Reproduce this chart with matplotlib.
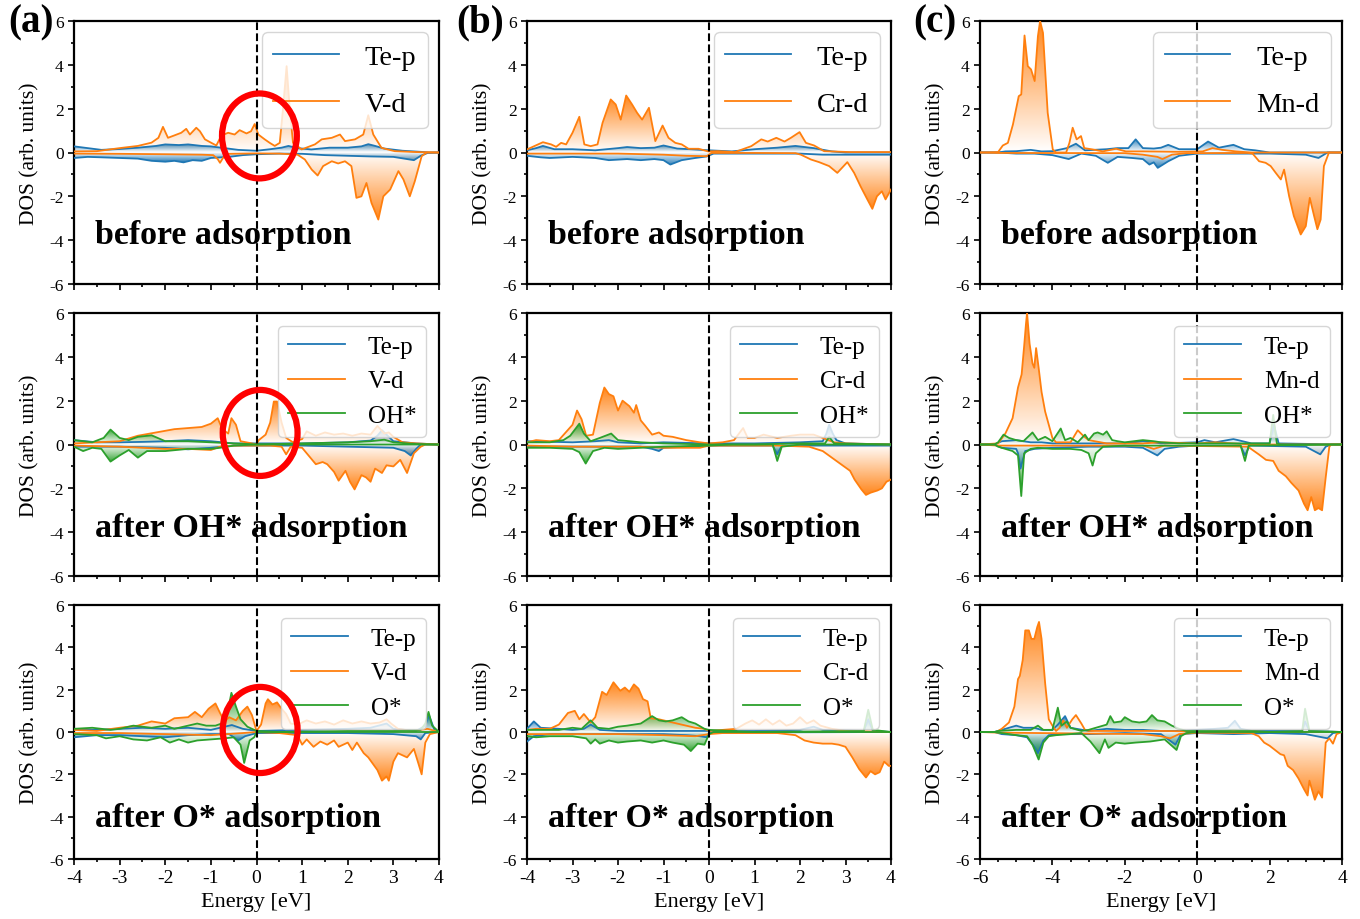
import numpy as np
import matplotlib.pyplot as plt
from matplotlib import rcParams
from matplotlib.patches import Polygon, Ellipse
from matplotlib.colors import to_rgb
from matplotlib.ticker import MultipleLocator

rcParams["font.family"] = "serif"
rcParams["font.serif"] = ["Liberation Serif", "DejaVu Serif"]
rcParams["axes.unicode_minus"] = False
rcParams["axes.linewidth"] = 1.6

# (energy eV, DOS) pairs; up spin > 0, down spin < 0

# ---- V, clean ----
v0_te_up = [(-4,0.28),(-3.7,0.2),(-3.4,0.12),(-3.0,0.16),(-2.6,0.22),(-2.2,0.3),(-2.0,0.37),(-1.7,0.34),(-1.5,0.37),(-1.2,0.3),(-1.0,0.28),(-0.7,0.2),(-0.4,0.12),(0,0.08),(0.3,0.15),(0.55,0.22),(0.7,0.3),(0.9,0.2),(1.2,0.14),(1.6,0.22),(2.0,0.22),(2.3,0.28),(2.45,0.38),(2.6,0.3),(2.8,0.18),(3.2,0.08),(3.6,0.03),(3.8,0.0),(4,0)]
v0_te_dn = [(-4,-0.25),(-3.7,-0.2),(-3.4,-0.22),(-3.0,-0.25),(-2.6,-0.28),(-2.3,-0.38),(-2.0,-0.42),(-1.8,-0.38),(-1.6,-0.45),(-1.4,-0.35),(-1.2,-0.38),(-1.0,-0.25),(-0.6,-0.2),(-0.3,-0.12),(0,-0.08),(0.5,-0.05),(1.0,-0.06),(1.5,-0.12),(2.0,-0.15),(2.5,-0.18),(3.0,-0.2),(3.3,-0.3),(3.45,-0.35),(3.6,-0.15),(3.75,-0.02),(4,0)]
v0_d_up = [(-4,0.05),(-3.5,0.06),(-3.0,0.2),(-2.6,0.3),(-2.3,0.45),(-2.15,0.67),(-2.05,1.17),(-1.94,0.67),(-1.8,0.78),(-1.65,0.9),(-1.54,1.08),(-1.46,0.82),(-1.32,1.13),(-1.24,0.97),(-1.13,0.6),(-0.99,0.44),(-0.88,0.32),(-0.77,0.78),(-0.62,0.9),(-0.48,0.82),(-0.37,1.02),(-0.22,0.87),(-0.12,0.97),(-0.04,1.3),(0.04,0.82),(0.18,0.6),(0.29,0.44),(0.4,0.3),(0.51,0.44),(0.58,1.96),(0.66,3.94),(0.73,1.96),(0.8,0.44),(0.99,0.14),(1.28,0.37),(1.43,0.6),(1.65,0.67),(1.83,0.82),(1.94,0.52),(2.16,0.6),(2.34,0.82),(2.45,1.7),(2.56,0.82),(2.74,0.21),(3.03,0.06),(3.5,0.02),(4,0.0)]
v0_d_dn = [(-4,-0.05),(-3.0,-0.06),(-2.0,-0.08),(-1.2,-0.1),(-0.95,-0.12),(-0.85,-0.3),(-0.8,-0.47),(-0.72,-0.2),(-0.6,-0.06),(0,-0.04),(0.5,-0.05),(0.9,-0.1),(1.06,-0.32),(1.21,-0.78),(1.34,-1.05),(1.46,-0.62),(1.65,-0.4),(1.79,-0.5),(1.94,-0.4),(2.08,-0.62),(2.19,-2.07),(2.3,-2.0),(2.41,-1.39),(2.52,-2.3),(2.67,-3.06),(2.78,-2.0),(2.93,-1.69),(3.11,-0.85),(3.22,-1.23),(3.36,-2.0),(3.47,-1.31),(3.62,-0.17),(3.73,0),(4,0)]

# ---- Cr, clean ----
cr0_te_up = [(-4,0.1),(-3.8,0.2),(-3.65,0.3),(-3.4,0.15),(-3.0,0.15),(-2.5,0.1),(-2.0,0.2),(-1.8,0.25),(-1.5,0.2),(-1.2,0.22),(-1.0,0.32),(-0.7,0.18),(-0.4,0.15),(0,0.1),(0.5,0.05),(1.0,0.15),(1.5,0.22),(1.9,0.3),(2.3,0.2),(2.7,0.05),(3.0,0.0),(4,0.0)]
cr0_te_dn = [(-4,-0.15),(-3.7,-0.22),(-3.5,-0.25),(-3.0,-0.2),(-2.5,-0.25),(-2.2,-0.35),(-1.8,-0.3),(-1.5,-0.35),(-1.2,-0.3),(-1.0,-0.35),(-0.85,-0.55),(-0.6,-0.35),(-0.3,-0.25),(-0.05,-0.18),(0.1,-0.05),(0.5,-0.05),(1.0,-0.05),(2.0,-0.05),(2.5,-0.1),(4,-0.1)]
cr0_d_up = [(-4,0.14),(-3.65,0.47),(-3.47,0.37),(-3.36,0.26),(-3.25,0.44),(-3.14,0.37),(-3.0,0.9),(-2.85,1.63),(-2.74,0.37),(-2.6,0.29),(-2.45,0.37),(-2.34,1.35),(-2.16,2.42),(-2.05,2.19),(-1.94,1.5),(-1.82,2.6),(-1.69,2.19),(-1.58,1.81),(-1.47,1.5),(-1.32,2.04),(-1.18,0.52),(-1.02,1.23),(-0.89,0.67),(-0.74,0.44),(-0.6,0.37),(-0.45,0.17),(-0.23,0.17),(-0.02,0.05),(0.2,0.06),(0.57,0.02),(0.93,0.29),(1.15,0.6),(1.29,0.5),(1.48,0.67),(1.66,0.5),(1.8,0.67),(1.99,0.93),(2.13,0.44),(2.31,0.32),(2.53,0.06),(3.1,0.02),(4,0.02)]
cr0_d_dn = [(-4,-0.05),(-2.0,-0.05),(-1.0,-0.1),(-0.5,-0.15),(-0.05,-0.17),(0.05,-0.02),(1.0,-0.02),(1.9,-0.03),(2.02,-0.1),(2.24,-0.32),(2.42,-0.44),(2.64,-0.62),(2.82,-0.93),(3.04,-0.44),(3.19,-0.93),(3.33,-1.54),(3.48,-2.14),(3.59,-2.57),(3.69,-2.0),(3.8,-1.77),(3.88,-2.14),(4,-1.69)]

# ---- Mn, clean ----
mn0_te_up = [(-6,0),(-5.5,0.0),(-5.3,0.05),(-5.0,0.06),(-4.6,0.12),(-4.3,0.05),(-4.0,0.06),(-3.6,0.2),(-3.35,0.4),(-3.1,0.1),(-2.5,0.15),(-2.2,0.2),(-1.9,0.2),(-1.7,0.6),(-1.5,0.2),(-1.2,0.18),(-1.0,0.22),(-0.8,0.35),(-0.5,0.15),(0,0.15),(0.3,0.5),(0.6,0.22),(1.0,0.35),(1.3,0.15),(1.6,0.1),(2.0,0.0),(4,0)]
mn0_te_dn = [(-6,0),(-5.5,0.0),(-5.0,-0.05),(-4.5,-0.05),(-4.0,-0.12),(-3.55,-0.3),(-3.2,-0.05),(-2.8,-0.15),(-2.47,-0.47),(-2.2,-0.2),(-1.8,-0.25),(-1.5,-0.3),(-1.32,-0.55),(-1.2,-0.45),(-1.09,-0.7),(-0.8,-0.4),(-0.5,-0.15),(0,-0.05),(1.0,-0.05),(2.0,-0.05),(3.0,-0.1),(3.35,-0.25),(3.6,0.0),(4,0)]
mn0_d_up = [(-6,0),(-5.5,0.02),(-5.37,0.32),(-5.23,0.44),(-5.09,1.28),(-4.93,2.57),(-4.86,2.65),(-4.77,5.34),(-4.68,3.94),(-4.59,3.79),(-4.49,3.26),(-4.4,5.31),(-4.34,6.0),(-4.26,5.46),(-4.13,1.81),(-3.99,0.14),(-3.9,0.0),(-3.62,0.0),(-3.53,0.44),(-3.44,1.13),(-3.33,0.6),(-3.21,0.75),(-3.12,0.2),(-2.89,0.14),(-2.61,0.05),(-2.24,0.17),(-1.97,0.05),(-1.5,0.05),(-0.5,0.03),(0.15,0.05),(0.42,0.2),(0.7,0.12),(1.07,0.05),(1.5,0.0),(4,0)]
mn0_d_dn = [(-6,0),(-5.5,-0.02),(-2.0,-0.03),(-1.5,-0.1),(-1.1,-0.2),(-0.96,-0.3),(-0.7,-0.1),(-0.3,-0.03),(1.4,-0.02),(1.53,-0.05),(1.71,-0.4),(1.89,-0.47),(2.03,-0.62),(2.17,-0.93),(2.31,-1.23),(2.4,-0.78),(2.54,-2.0),(2.67,-2.9),(2.86,-3.74),(3.0,-3.36),(3.11,-2.07),(3.23,-2.9),(3.32,-3.5),(3.41,-3.06),(3.5,-0.62),(3.64,0),(4,0)]

# ---- V + OH* ----
v1_te_up = [(-4,0.2),(-3.5,0.1),(-3.0,0.1),(-2.5,0.12),(-2.0,0.15),(-1.5,0.2),(-1.0,0.15),(-0.5,0.05),(0,0.05),(1.0,0.05),(2.0,0.1),(2.5,0.18),(2.65,0.4),(2.75,0.65),(2.85,0.45),(3.0,0.15),(3.5,0.05),(4,0)]
v1_te_dn = [(-4,-0.1),(-3.0,-0.1),(-2.0,-0.15),(-1.5,-0.22),(-1.0,-0.15),(-0.5,-0.05),(0,-0.05),(1.0,-0.05),(2.0,-0.1),(3.0,-0.15),(3.25,-0.3),(3.38,-0.5),(3.5,-0.2),(3.6,0),(4,0)]
v1_d_up = [(-4,0.05),(-3.5,0.1),(-3.0,0.15),(-2.6,0.4),(-2.2,0.55),(-1.8,0.7),(-1.5,0.75),(-1.2,0.8),(-1.0,0.95),(-0.85,1.2),(-0.75,0.7),(-0.62,0.5),(-0.55,1.2),(-0.45,0.9),(-0.35,0.15),(-0.1,0.05),(0,0.0),(0.05,0.2),(0.2,0.45),(0.3,1.0),(0.38,1.96),(0.45,1.96),(0.55,1.0),(0.65,0.3),(0.8,0.1),(1.0,0.25),(1.1,0.6),(1.3,0.4),(1.5,0.55),(1.7,0.45),(1.9,0.5),(2.1,0.4),(2.3,0.5),(2.5,0.45),(2.65,0.85),(2.8,0.5),(2.9,0.55),(3.0,0.35),(3.2,0.1),(3.5,0.05),(4,0)]
v1_d_dn = [(-4,-0.05),(-3.0,-0.1),(-2.5,-0.15),(-2.0,-0.2),(-1.5,-0.2),(-1.0,-0.25),(-0.8,-0.1),(-0.5,-0.05),(0.3,-0.05),(0.55,-0.1),(0.65,-0.45),(0.75,-0.1),(1.0,-0.15),(1.1,-0.4),(1.3,-0.9),(1.45,-0.8),(1.55,-0.9),(1.7,-1.25),(1.8,-1.65),(1.95,-1.2),(2.05,-1.7),(2.15,-2.05),(2.3,-1.4),(2.4,-1.5),(2.5,-1.7),(2.6,-1.1),(2.75,-1.3),(2.85,-0.95),(3.0,-1.0),(3.15,-0.7),(3.3,-1.3),(3.45,-0.4),(3.6,-0.1),(3.7,0),(4,0)]
v1_ad_up = [(-4,0.2),(-3.6,0.1),(-3.35,0.3),(-3.2,0.68),(-3.0,0.3),(-2.8,0.2),(-2.6,0.35),(-2.3,0.42),(-2.0,0.15),(-1.5,0.15),(-1.0,0.1),(-0.5,0.05),(0,0.0),(1.0,0.05),(2.0,0.1),(2.5,0.15),(2.8,0.22),(3.0,0.1),(3.5,0.02),(4,0)]
v1_ad_dn = [(-4,-0.1),(-3.8,-0.3),(-3.6,-0.15),(-3.4,-0.2),(-3.2,-0.78),(-3.0,-0.5),(-2.8,-0.25),(-2.6,-0.6),(-2.4,-0.3),(-2.0,-0.3),(-1.5,-0.2),(-1.0,-0.2),(-0.8,-0.15),(-0.5,-0.05),(0,0),(4,0)]

# ---- Cr + OH* ----
cr1_te_up = [(-4,0.15),(-3.0,0.1),(-2.5,0.15),(-2.2,0.2),(-2.0,0.1),(-1.5,0.05),(-1.0,0.1),(0,0.05),(1.0,0.05),(2.0,0.1),(2.5,0.15),(2.58,0.5),(2.64,0.9),(2.72,0.5),(2.8,0.2),(3.0,0.05),(4,0)]
cr1_te_dn = [(-4,-0.1),(-3.0,-0.1),(-2.0,-0.1),(-1.5,-0.1),(-1.25,-0.2),(-1.1,-0.3),(-1.0,-0.15),(0,-0.05),(1.4,-0.05),(1.5,-0.45),(1.6,-0.05),(2.0,-0.05),(3.5,-0.05),(4,-0.05)]
cr1_d_up = [(-4,0.1),(-3.8,0.2),(-3.5,0.15),(-3.3,0.2),(-3.15,0.55),(-3.0,0.9),(-2.9,1.55),(-2.8,1.15),(-2.7,0.4),(-2.55,0.45),(-2.4,1.9),(-2.3,2.6),(-2.2,2.3),(-2.1,2.2),(-2.0,1.55),(-1.9,2.0),(-1.75,1.75),(-1.65,1.45),(-1.6,1.8),(-1.5,1.1),(-1.4,0.85),(-1.25,0.45),(-1.1,0.55),(-1.0,0.4),(-0.8,0.35),(-0.5,0.2),(-0.2,0.1),(0,0.05),(0.3,0.1),(0.55,0.2),(0.75,0.75),(0.85,0.3),(1.0,0.3),(1.2,0.45),(1.5,0.3),(1.8,0.4),(2.0,0.45),(2.3,0.45),(2.5,0.3),(2.75,0.1),(3.0,0.05),(4,0)]
cr1_d_dn = [(-4,-0.05),(-3.0,-0.1),(-2.0,-0.1),(-1.5,-0.1),(-1.0,-0.15),(-0.5,-0.15),(-0.2,-0.15),(0,-0.05),(0.5,-0.05),(1.5,-0.05),(2.2,-0.1),(2.5,-0.3),(2.7,-0.6),(2.9,-0.9),(3.1,-1.2),(3.2,-1.6),(3.35,-2.05),(3.45,-2.3),(3.55,-2.2),(3.7,-2.1),(3.8,-2.0),(3.9,-1.7),(4,-1.6)]
cr1_ad_up = [(-4,0.1),(-3.5,0.1),(-3.2,0.2),(-3.05,0.4),(-2.85,0.95),(-2.75,0.5),(-2.6,0.15),(-2.4,0.3),(-2.15,0.5),(-2.0,0.2),(-1.5,0.1),(-1.0,0.05),(0,0.0),(1.0,0.0),(2.0,0.05),(2.55,0.05),(2.64,0.35),(2.75,0.05),(4,0)]
cr1_ad_dn = [(-4,-0.15),(-3.5,-0.15),(-3.0,-0.2),(-2.85,-0.35),(-2.71,-0.87),(-2.55,-0.3),(-2.3,-0.15),(-2.0,-0.2),(-1.5,-0.15),(-1.0,-0.1),(0,-0.05),(0.5,0),(1.4,0),(1.5,-0.75),(1.6,-0.1),(2.0,0),(4,0)]

# ---- Mn + OH* ----
mn1_te_up = [(-6,0),(-5.6,0),(-5.4,0.15),(-5.0,0.2),(-4.6,0.1),(-4.3,0.1),(-4.0,0.05),(-3.0,0.05),(-2.0,0.05),(-1.5,0.15),(-1.0,0.05),(0,0.1),(0.2,0.2),(0.5,0.1),(1.0,0.25),(1.5,0.05),(2.0,0.05),(2.12,0.9),(2.25,0.05),(4,0)]
mn1_te_dn = [(-6,0),(-5.6,0),(-5.4,-0.15),(-5.0,-0.2),(-4.95,-0.4),(-4.88,-1.1),(-4.75,-0.3),(-4.5,-0.2),(-4.0,-0.15),(-3.0,-0.1),(-2.0,-0.1),(-1.5,-0.15),(-1.1,-0.5),(-0.9,-0.2),(-0.5,-0.1),(0,-0.05),(1.2,-0.05),(1.32,-0.5),(1.45,-0.05),(3.0,-0.1),(3.4,-0.45),(3.55,-0.1),(3.7,0),(4,0)]
mn1_d_up = [(-6,0),(-5.5,0.05),(-5.3,0.5),(-5.1,1.2),(-4.95,2.6),(-4.85,3.2),(-4.78,4.5),(-4.73,5.5),(-4.7,6.0),(-4.63,4.6),(-4.55,3.7),(-4.5,3.5),(-4.45,4.4),(-4.38,3.5),(-4.3,2.4),(-4.2,1.5),(-4.1,0.9),(-4.0,0.3),(-3.9,0.1),(-3.5,0.1),(-3.3,0.65),(-3.15,0.4),(-3.0,0.2),(-2.5,0.05),(-1.5,0.05),(-1.0,0.1),(0,0.05),(0.5,0.1),(1.0,0.05),(1.5,0.0),(4,0)]
mn1_d_dn = [(-6,0),(-5.5,-0.05),(-1.5,-0.05),(-1.2,-0.2),(-0.9,-0.05),(1.4,-0.1),(1.7,-0.45),(1.9,-0.7),(2.1,-0.75),(2.25,-1.2),(2.45,-1.45),(2.6,-1.75),(2.8,-2.1),(2.95,-2.7),(3.05,-3.0),(3.15,-2.4),(3.25,-3.0),(3.35,-2.9),(3.45,-3.0),(3.55,-1.5),(3.65,-0.1),(3.7,0),(4,0)]
mn1_ad_up = [(-6,0),(-5.6,0),(-5.5,0.1),(-5.35,0.45),(-5.2,0.3),(-5.0,0.2),(-4.8,0.15),(-4.55,0.55),(-4.4,0.2),(-4.2,0.35),(-4.0,0.15),(-3.77,0.73),(-3.65,0.2),(-3.5,0.3),(-3.3,0.1),(-3.1,0.45),(-3.0,0.2),(-2.85,0.5),(-2.75,0.55),(-2.6,0.45),(-2.5,0.6),(-2.35,0.2),(-2.2,0.15),(-2.0,0.1),(-1.5,0.2),(-1.2,0.15),(-1.0,0.1),(-0.5,0.05),(0,0.05),(1.0,0.05),(2.0,0.05),(2.1,1.35),(2.2,0.05),(2.3,0),(4,0)]
mn1_ad_dn = [(-6,0),(-5.6,0),(-5.5,-0.1),(-5.3,-0.2),(-5.1,-0.3),(-4.95,-0.5),(-4.86,-2.35),(-4.78,-0.4),(-4.6,-0.2),(-4.4,-0.15),(-4.0,-0.2),(-3.5,-0.2),(-3.2,-0.25),(-3.0,-0.4),(-2.89,-0.96),(-2.8,-0.4),(-2.6,-0.1),(-2.0,-0.05),(1.2,-0.05),(1.32,-0.75),(1.42,-0.05),(4,0)]

# ---- V + O* ----
v2_te_up = [(-4,0.15),(-3.5,0.1),(-3.0,0.15),(-2.5,0.2),(-2.0,0.15),(-1.5,0.2),(-1.0,0.1),(-0.54,0.33),(-0.3,0.15),(0,0.05),(1.0,0.1),(2.0,0.15),(2.5,0.2),(2.85,0.4),(3.0,0.15),(3.5,0.05),(3.7,0.3),(3.78,0.8),(3.9,0.1),(4,0)]
v2_te_dn = [(-4,-0.25),(-3.5,-0.15),(-3.0,-0.15),(-2.5,-0.2),(-2.0,-0.25),(-1.5,-0.15),(-1.0,-0.1),(-0.6,-0.1),(-0.4,-0.4),(-0.25,-0.2),(0,-0.05),(1.0,-0.05),(2.0,-0.05),(3.0,-0.1),(3.5,-0.2),(3.6,-0.35),(3.7,-0.05),(4,0)]
v2_d_up = [(-4,0.1),(-3.5,0.05),(-3.0,0.2),(-2.6,0.3),(-2.3,0.5),(-2.0,0.4),(-1.8,0.65),(-1.5,0.7),(-1.35,0.95),(-1.2,0.7),(-1.05,1.1),(-0.9,1.35),(-0.8,0.9),(-0.7,0.5),(-0.6,0.7),(-0.45,0.55),(-0.3,1.0),(-0.2,1.2),(-0.1,0.8),(0,0.05),(0.1,0.35),(0.2,1.35),(0.25,1.55),(0.35,1.3),(0.45,1.4),(0.55,1.1),(0.65,0.85),(0.75,0.4),(0.9,0.35),(1.1,0.55),(1.3,0.4),(1.5,0.5),(1.7,0.35),(1.9,0.55),(2.1,0.4),(2.3,0.5),(2.5,0.4),(2.7,0.45),(2.85,0.6),(2.95,0.4),(3.1,0.15),(3.4,0.05),(3.75,0.15),(4,0)]
v2_d_dn = [(-4,-0.05),(-3.0,-0.05),(-2.0,-0.1),(-1.0,-0.15),(-0.3,-0.05),(0,0),(0.5,-0.05),(0.9,-0.15),(1.0,-0.6),(1.1,-0.35),(1.25,-0.7),(1.4,-0.45),(1.55,-0.6),(1.7,-0.4),(1.8,-0.7),(2.0,-0.5),(2.1,-0.85),(2.2,-0.5),(2.35,-1.0),(2.45,-1.2),(2.55,-1.5),(2.65,-1.8),(2.75,-2.3),(2.85,-2.1),(2.9,-2.3),(3.0,-1.4),(3.1,-1.0),(3.3,-1.2),(3.45,-0.8),(3.55,-1.5),(3.62,-2.0),(3.7,-0.5),(3.8,-0.1),(4,0)]
v2_ad_up = [(-4,0.15),(-3.6,0.2),(-3.2,0.1),(-3.0,0.15),(-2.7,0.3),(-2.5,0.25),(-2.3,0.2),(-2.0,0.3),(-1.8,0.15),(-1.5,0.3),(-1.3,0.4),(-1.1,0.3),(-0.9,0.3),(-0.7,0.45),(-0.6,1.3),(-0.55,1.85),(-0.45,1.2),(-0.35,0.6),(-0.2,0.25),(0,0.05),(0.5,0.0),(2.0,0.05),(3.0,0.05),(3.6,0.1),(3.7,0.4),(3.77,0.95),(3.85,0.3),(4,0)]
v2_ad_dn = [(-4,-0.1),(-3.5,-0.15),(-3.3,-0.3),(-3.0,-0.2),(-2.7,-0.35),(-2.4,-0.4),(-2.1,-0.25),(-1.9,-0.5),(-1.7,-0.35),(-1.5,-0.5),(-1.3,-0.4),(-1.0,-0.35),(-0.7,-0.3),(-0.5,-0.25),(-0.35,-0.6),(-0.27,-1.46),(-0.15,-0.4),(-0.05,-0.25),(0,0),(4,0)]

# ---- Cr + O* ----
cr2_te_up = [(-4,0.15),(-3.85,0.5),(-3.7,0.2),(-3.3,0.15),(-3.0,0.1),(-2.75,0.15),(-2.6,0.35),(-2.4,0.1),(-2.0,0.05),(-1.0,0.05),(0,0.05),(1.0,0.05),(2.0,0.1),(2.3,0.25),(2.5,0.1),(3.4,0.05),(3.5,0.6),(3.6,0.05),(4,0)]
cr2_te_dn = [(-4,-0.45),(-3.85,-0.2),(-3.5,-0.1),(-3.0,-0.1),(-2.0,-0.1),(-1.0,-0.1),(-0.5,-0.15),(-0.2,-0.2),(-0.05,-0.25),(0,-0.05),(1.0,-0.02),(4,0)]
cr2_d_up = [(-4,0.1),(-3.8,0.15),(-3.5,0.15),(-3.3,0.35),(-3.1,0.9),(-2.95,1.0),(-2.85,0.6),(-2.75,0.85),(-2.6,0.45),(-2.5,0.7),(-2.35,1.9),(-2.25,1.75),(-2.1,2.35),(-1.95,1.95),(-1.85,2.1),(-1.75,1.9),(-1.65,2.25),(-1.55,2.05),(-1.45,1.55),(-1.35,1.45),(-1.28,0.65),(-1.1,0.6),(-0.9,0.5),(-0.7,0.4),(-0.5,0.3),(-0.3,0.2),(-0.1,0.15),(0,0.05),(0.3,0.1),(0.6,0.15),(0.8,0.4),(0.95,0.55),(1.1,0.35),(1.25,0.6),(1.4,0.35),(1.55,0.55),(1.7,0.3),(1.85,0.4),(2.0,0.7),(2.15,0.4),(2.3,0.55),(2.45,0.3),(2.7,0.15),(3.0,0.05),(4,0)]
cr2_d_dn = [(-4,-0.1),(-3.0,-0.1),(-2.0,-0.1),(-1.0,-0.15),(-0.3,-0.2),(0,-0.1),(0.3,-0.05),(1.5,-0.05),(1.9,-0.15),(2.1,-0.4),(2.3,-0.5),(2.5,-0.55),(2.7,-0.55),(2.85,-0.6),(3.0,-0.7),(3.15,-1.2),(3.3,-1.75),(3.45,-2.15),(3.55,-1.85),(3.65,-2.0),(3.75,-1.9),(3.85,-1.4),(3.95,-1.6),(4,-1.6)]
cr2_ad_up = [(-4,0.1),(-3.7,0.1),(-3.3,0.1),(-3.0,0.2),(-2.8,0.15),(-2.6,0.55),(-2.45,0.2),(-2.2,0.15),(-2.0,0.25),(-1.8,0.3),(-1.5,0.4),(-1.25,0.75),(-1.1,0.55),(-0.95,0.5),(-0.8,0.55),(-0.6,0.7),(-0.45,0.5),(-0.3,0.4),(-0.1,0.15),(0,0.1),(0.5,0.05),(1.0,0),(3.4,0.05),(3.5,1.05),(3.6,0.1),(4,0)]
cr2_ad_dn = [(-4,-0.2),(-3.8,-0.25),(-3.5,-0.2),(-3.0,-0.2),(-2.7,-0.3),(-2.6,-0.55),(-2.5,-0.35),(-2.4,-0.55),(-2.2,-0.4),(-2.0,-0.5),(-1.8,-0.45),(-1.5,-0.4),(-1.25,-0.5),(-1.0,-0.4),(-0.8,-0.5),(-0.55,-0.6),(-0.4,-0.9),(-0.25,-0.55),(-0.1,-0.6),(0,-0.1),(0.1,0),(4,0)]

# ---- Mn + O* ----
mn2_te_up = [(-6,0),(-5.6,0),(-5.4,0.1),(-5.0,0.3),(-4.8,0.2),(-4.5,0.2),(-4.3,0.1),(-4.0,0.1),(-3.85,0.35),(-3.65,0.75),(-3.5,0.2),(-3.0,0.05),(-2.5,0.15),(-2.0,0.1),(-1.5,0.1),(-1.0,0.05),(-0.5,0.05),(0,0.1),(0.5,0.15),(0.85,0.2),(1.04,0.53),(1.2,0.15),(1.5,0.05),(2.9,0.05),(2.98,0.5),(3.1,0.05),(4,0)]
mn2_te_dn = [(-6,0),(-5.6,0),(-5.4,-0.1),(-5.0,-0.15),(-4.7,-0.25),(-4.5,-0.7),(-4.4,-1.0),(-4.25,-0.4),(-4.1,-0.15),(-3.8,-0.1),(-3.0,-0.1),(-2.0,-0.05),(-1.0,-0.1),(-0.6,-0.6),(-0.45,-0.1),(0,-0.05),(1.0,-0.1),(2.0,-0.05),(3.0,-0.1),(3.6,-0.3),(3.75,-0.05),(4,0)]
mn2_d_up = [(-6,0),(-5.55,0),(-5.4,0.15),(-5.2,0.45),(-5.05,1.2),(-4.95,2.5),(-4.9,2.65),(-4.82,3.4),(-4.75,4.8),(-4.65,4.8),(-4.58,4.4),(-4.5,4.4),(-4.42,4.95),(-4.37,5.2),(-4.3,4.4),(-4.2,2.3),(-4.1,0.6),(-4.0,0.3),(-3.9,0.05),(-3.8,0.2),(-3.7,0.55),(-3.6,0.2),(-3.45,0.6),(-3.35,0.8),(-3.2,0.4),(-3.1,0.1),(-3.0,0.05),(-2.0,0.05),(-1.0,0.05),(0,0.02),(1.0,0.05),(2.0,0),(4,0)]
mn2_d_dn = [(-6,0),(-5.5,-0.03),(-1.5,-0.1),(-1.0,-0.2),(-0.75,-0.3),(-0.5,-0.1),(0,-0.03),(1.5,-0.05),(1.7,-0.2),(1.85,-0.5),(2.0,-0.65),(2.15,-0.85),(2.3,-1.05),(2.4,-1.1),(2.5,-1.6),(2.65,-1.8),(2.8,-2.2),(2.95,-2.7),(3.05,-3.0),(3.1,-2.3),(3.2,-2.9),(3.25,-3.2),(3.35,-2.8),(3.45,-3.1),(3.55,-0.5),(3.65,-0.3),(3.75,-0.55),(3.85,-0.1),(4,0)]
mn2_ad_up = [(-6,0),(-5.6,0),(-5.5,0.05),(-5.0,0.1),(-4.6,0.1),(-4.4,0.3),(-4.25,0.1),(-4.0,0.1),(-3.85,1.15),(-3.75,0.3),(-3.6,0.5),(-3.5,0.2),(-3.2,0.05),(-3.0,0.1),(-2.8,0.2),(-2.5,0.35),(-2.4,0.75),(-2.3,0.45),(-2.1,0.5),(-2.0,0.7),(-1.8,0.5),(-1.6,0.45),(-1.4,0.5),(-1.25,0.8),(-1.1,0.55),(-0.9,0.5),(-0.7,0.3),(-0.5,0.15),(-0.3,0.05),(0,0.05),(0.5,0.05),(1.0,0.1),(2.0,0),(2.9,0.05),(2.98,1.1),(3.1,0.05),(4,0)]
mn2_ad_dn = [(-6,0),(-5.6,0),(-5.4,-0.05),(-5.0,-0.15),(-4.7,-0.2),(-4.55,-0.6),(-4.38,-1.3),(-4.25,-0.5),(-4.1,-0.2),(-3.9,-0.15),(-3.5,-0.1),(-3.2,-0.05),(-2.95,-0.45),(-2.7,-1.0),(-2.55,-0.35),(-2.45,-0.75),(-2.25,-0.5),(-2.0,-0.55),(-1.7,-0.5),(-1.3,-0.45),(-0.9,-0.35),(-0.57,-0.85),(-0.45,-0.2),(-0.3,-0.05),(0,0),(4,0)]

metals = ["V", "Cr", "Mn"]
panel_tags = ["(a)", "(b)", "(c)"]
states = ["before adsorption", "after OH* adsorption", "after O* adsorption"]
adsorbates = [None, "OH*", "O*"]
xlims = [(-4, 4), (-4, 4), (-6, 4)]

te_up = [[v0_te_up, cr0_te_up, mn0_te_up], [v1_te_up, cr1_te_up, mn1_te_up], [v2_te_up, cr2_te_up, mn2_te_up]]
te_dn = [[v0_te_dn, cr0_te_dn, mn0_te_dn], [v1_te_dn, cr1_te_dn, mn1_te_dn], [v2_te_dn, cr2_te_dn, mn2_te_dn]]
d_up = [[v0_d_up, cr0_d_up, mn0_d_up], [v1_d_up, cr1_d_up, mn1_d_up], [v2_d_up, cr2_d_up, mn2_d_up]]
d_dn = [[v0_d_dn, cr0_d_dn, mn0_d_dn], [v1_d_dn, cr1_d_dn, mn1_d_dn], [v2_d_dn, cr2_d_dn, mn2_d_dn]]
ad_up = [[None, None, None], [v1_ad_up, cr1_ad_up, mn1_ad_up], [v2_ad_up, cr2_ad_up, mn2_ad_up]]
ad_dn = [[None, None, None], [v1_ad_dn, cr1_ad_dn, mn1_ad_dn], [v2_ad_dn, cr2_ad_dn, mn2_ad_dn]]

c_te, c_d, c_ad = "#1f77b4", "#ff7f0e", "#2ca02c"

# layout in pixels
W, H = 1360, 920
col_left = [74, 527, 980]
col_w = [365, 364, 362]
row_top = [22, 314, 606]
row_h = [263, 263, 254]
text_y = [0.19, 0.186, 0.165]
circle_xy = [(0.508, 0.563), (0.51, 0.544), (0.51, 0.508)]
circle_h = [0.323, 0.327, 0.339]


def grad_fill(ax, pts, color, z):
    e = np.array([p[0] for p in pts])
    d = np.array([p[1] for p in pts])
    ext = d.max() if d.max() >= -d.min() else d.min()
    if abs(ext) < 1e-6:
        return
    verts = np.vstack([np.column_stack([e, d]), [[e[-1], 0], [e[0], 0]]])
    poly = Polygon(verts, closed=True, facecolor="none", edgecolor="none")
    ax.add_patch(poly)
    rgba = np.zeros((256, 1, 4))
    rgba[..., :3] = to_rgb(color)
    rgba[..., 3] = np.linspace(0, 0.95, 256)[:, None]
    im = ax.imshow(rgba, aspect="auto", origin="lower", extent=[e.min(), e.max(), 0, ext],
                   zorder=z, interpolation="bilinear")
    im.set_clip_path(poly)


def draw_line(ax, pts, color, label=None, z=3):
    e = [p[0] for p in pts]
    d = [p[1] for p in pts]
    return ax.plot(e, d, color=color, lw=1.3, label=label, zorder=z)[0]


fig = plt.figure(figsize=(13.6, 9.2), dpi=100)

for r in range(3):
    for c in range(3):
        ax = fig.add_axes([col_left[c] / W, 1 - (row_top[r] + row_h[r]) / H, col_w[c] / W, row_h[r] / H])

        curves = [(te_up[r][c], te_dn[r][c], c_te, "Te-p"),
                  (d_up[r][c], d_dn[r][c], c_d, metals[c] + "-d")]
        if ad_up[r][c] is not None:
            curves.append((ad_up[r][c], ad_dn[r][c], c_ad, adsorbates[r]))

        handles = []
        for k, (up, dn, col, lab) in enumerate(curves):
            grad_fill(ax, up, col, 1 + 0.1 * k)
            grad_fill(ax, dn, col, 1 + 0.1 * k)
        for k, (up, dn, col, lab) in enumerate(curves):
            handles.append(draw_line(ax, up, col, lab, z=3 + 0.1 * k))
            draw_line(ax, dn, col, z=3 + 0.1 * k)

        ax.axvline(0, color="k", ls="--", lw=1.5, zorder=4)

        ax.set_xlim(*xlims[c])
        ax.set_ylim(-6, 6)
        ax.set_yticks(range(-6, 7, 2))
        ax.yaxis.set_minor_locator(MultipleLocator(1))
        if c == 2:
            ax.set_xticks(range(-6, 5, 2))
        else:
            ax.set_xticks(range(-4, 5, 1))
        ax.xaxis.set_minor_locator(MultipleLocator(0.5))
        ax.tick_params(which="both", direction="out", width=1.2)
        ax.tick_params(axis="y", labelsize=12.5)
        ax.tick_params(axis="x", labelsize=14)
        ax.tick_params(which="major", length=4)
        ax.tick_params(which="minor", length=2.5)
        ax.set_ylabel("DOS (arb. units)", fontsize=15.5, labelpad=7)
        if r == 2:
            ax.set_xlabel("Energy [eV]", fontsize=16, labelpad=4)
        else:
            ax.tick_params(axis="x", labelbottom=False)

        if r == 0:
            ax.legend(handles=handles, loc="upper right", fontsize=20.5, handlelength=2.3,
                      handletextpad=0.9, labelspacing=0.75, borderaxespad=0.4)
        else:
            ax.legend(handles=handles, loc="upper right", fontsize=18, handlelength=2.3,
                      handletextpad=0.9, labelspacing=0.48, borderaxespad=0.5)

        ax.text(0.058, text_y[r], states[r], transform=ax.transAxes, fontsize=24.5,
                fontweight="bold", va="center", zorder=6)

        if c == 0:
            ax.add_patch(Ellipse(circle_xy[r], 0.205, circle_h[r], transform=ax.transAxes,
                                 fill=False, edgecolor="red", lw=4.5, zorder=20, clip_on=False))

tag_x = [8, 456, 913]
for c in range(3):
    fig.text(tag_x[c] / W, 1 - 4 / H, panel_tags[c], fontsize=28, fontweight="bold",
             ha="left", va="top")

fig.savefig("out.png", dpi=100)
